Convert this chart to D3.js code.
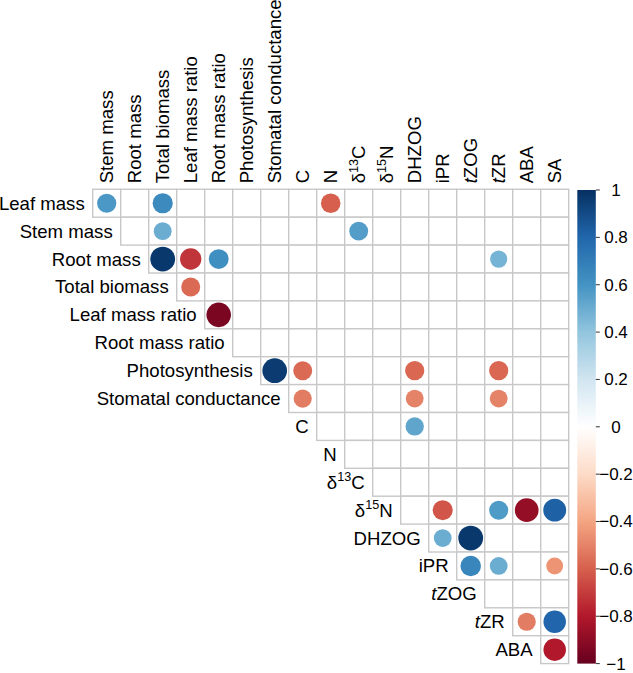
<!DOCTYPE html>
<html>
<head>
<meta charset="utf-8">
<script src="https://cdn.jsdelivr.net/npm/d3@7"></script>
<style>
  html, body { margin: 0; padding: 0; background: #fff; }
  svg { display: block; }
  text { font-family: "Liberation Sans", Arial, sans-serif; fill: #000; }
</style>
</head>
<body>
<svg id="chart" width="633" height="673"></svg>
<script>
// ---- Data ----
// Markup in labels: ^{..} = superscript, *..* = italic
const rowLabels = ["Leaf mass", "Stem mass", "Root mass", "Total biomass", "Leaf mass ratio",
  "Root mass ratio", "Photosynthesis", "Stomatal conductance", "C", "N", "δ^{13}C", "δ^{15}N",
  "DHZOG", "iPR", "*t*ZOG", "*t*ZR", "ABA"];
const colLabels = ["Stem mass", "Root mass", "Total biomass", "Leaf mass ratio", "Root mass ratio",
  "Photosynthesis", "Stomatal conductance", "C", "N", "δ^{13}C", "δ^{15}N", "DHZOG", "iPR",
  "*t*ZOG", "*t*ZR", "ABA", "SA"];
// Correlation values, one array per row (null = not shown)
const _ = null;
const corrValues = [
  [0.58, _, 0.64, _, _, _, _, _, -0.60, _, _, _, _, _, _, _, _],
  [_, _, 0.50, _, _, _, _, _, _, 0.56, _, _, _, _, _, _, _],
  [_, _, 0.97, -0.72, 0.62, _, _, _, _, _, _, _, _, _, 0.47, _, _],
  [_, _, _, -0.57, _, _, _, _, _, _, _, _, _, _, _, _, _],
  [_, _, _, _, -0.95, _, _, _, _, _, _, _, _, _, _, _, _],
  [_, _, _, _, _, _, _, _, _, _, _, _, _, _, _, _, _],
  [_, _, _, _, _, _, 0.96, -0.57, _, _, _, -0.58, _, _, -0.58, _, _],
  [_, _, _, _, _, _, _, -0.52, _, _, _, -0.50, _, _, -0.50, _, _],
  [_, _, _, _, _, _, _, _, _, _, _, 0.53, _, _, _, _, _],
  [_, _, _, _, _, _, _, _, _, _, _, _, _, _, _, _, _],
  [_, _, _, _, _, _, _, _, _, _, _, _, _, _, _, _, _],
  [_, _, _, _, _, _, _, _, _, _, _, _, -0.63, _, 0.57, -0.88, 0.82],
  [_, _, _, _, _, _, _, _, _, _, _, _, 0.50, 0.97, _, _, _],
  [_, _, _, _, _, _, _, _, _, _, _, _, _, 0.66, 0.50, _, -0.45],
  [_, _, _, _, _, _, _, _, _, _, _, _, _, _, _, _, _],
  [_, _, _, _, _, _, _, _, _, _, _, _, _, _, _, -0.52, 0.80],
  [_, _, _, _, _, _, _, _, _, _, _, _, _, _, _, _, -0.80]
];
const legendTicks = [1, 0.8, 0.6, 0.4, 0.2, 0, -0.2, -0.4, -0.6, -0.8, -1];
const paletteColors = ["#67001F", "#B2182B", "#D6604D", "#F4A582", "#FDDBC7", "#FFFFFF",
  "#D1E5F0", "#92C5DE", "#4393C3", "#2166AC", "#053061"];

// ---- Layout ----
const svg = d3.select("#chart");
const gx0 = 92.7, gy0 = 189.3, cw = 28, ch = 27.9;
const n = colLabels.length;
const x = d3.scaleBand().domain(d3.range(n)).range([gx0, gx0 + n * cw]).padding(0);
const y = d3.scaleBand().domain(d3.range(rowLabels.length)).range([gy0, gy0 + rowLabels.length * ch]).padding(0);

const colorStops = d3.range(paletteColors.length).map(i => -1 + 2 * i / (paletteColors.length - 1));
const color = d3.scaleLinear().domain(colorStops).range(paletteColors).interpolate(d3.interpolateRgb);
const rScale = d3.scaleSqrt().domain([0, 1]).range([0, 0.9 * cw / 2]);

const fontSize = 18.6;

function richText(sel, label) {
  const re = /(\^\{[^}]*\}|\*[^*]*\*|[^^*]+)/g;
  const parts = label.match(re) || [];
  let prevSup = false;
  parts.forEach(p => {
    let t;
    if (p.startsWith("^{")) {
      t = sel.append("tspan").text(p.slice(2, -1)).attr("font-size", fontSize * 0.68).attr("dy", -fontSize * 0.4);
      prevSup = true;
    } else {
      if (p.startsWith("*")) {
        t = sel.append("tspan").text(p.slice(1, -1)).attr("font-style", "italic");
      } else {
        t = sel.append("tspan").text(p);
      }
      if (prevSup) { t.attr("dy", fontSize * 0.4); prevSup = false; }
    }
  });
}

// cells
const cells = [];
rowLabels.forEach((rl, i) => {
  for (let j = i; j < n; j++) cells.push({ i, j, v: corrValues[i][j] });
});

svg.append("g").selectAll("rect").data(cells).join("rect")
  .attr("x", d => x(d.j)).attr("y", d => y(d.i))
  .attr("width", x.bandwidth()).attr("height", y.bandwidth())
  .attr("fill", "#fff").attr("stroke", "#c8c8c8").attr("stroke-width", 1.4);

svg.append("g").selectAll("circle").data(cells.filter(d => d.v !== null)).join("circle")
  .attr("cx", d => x(d.j) + x.bandwidth() / 2)
  .attr("cy", d => y(d.i) + y.bandwidth() / 2)
  .attr("r", d => rScale(Math.abs(d.v)))
  .attr("fill", d => color(d.v));

// row labels
svg.append("g").selectAll("text").data(rowLabels).join("text")
  .attr("x", (d, i) => x(i) - 8)
  .attr("y", (d, i) => y(i) + y.bandwidth() / 2)
  .attr("dy", "0.35em")
  .attr("text-anchor", "end")
  .attr("font-size", fontSize)
  .each(function (d) { richText(d3.select(this), d); });

// column labels
svg.append("g").selectAll("text").data(colLabels).join("text")
  .attr("transform", (d, j) => `translate(${x(j) + x.bandwidth() / 2},${gy0 - 6}) rotate(-90)`)
  .attr("dy", "0.35em")
  .attr("text-anchor", "start")
  .attr("font-size", fontSize)
  .each(function (d) { richText(d3.select(this), d); });

// color legend
const lx = 577.3, lw = 18.5, ly0 = gy0 + 0.7, ly1 = gy0 + rowLabels.length * ch;
const ly = d3.scaleLinear().domain([1, -1]).range([ly0, ly1]);
const defs = svg.append("defs");
const grad = defs.append("linearGradient").attr("id", "cbar")
  .attr("x1", 0).attr("x2", 0).attr("y1", 0).attr("y2", 1);
d3.range(0, 101).forEach(k => {
  const v = 1 - 2 * k / 100;
  grad.append("stop").attr("offset", k + "%").attr("stop-color", color(v));
});
svg.append("rect").attr("x", lx).attr("y", ly0).attr("width", lw).attr("height", ly1 - ly0)
  .attr("fill", "url(#cbar)");

const lg = svg.append("g");
lg.selectAll("line").data(legendTicks).join("line")
  .attr("x1", lx + lw).attr("x2", lx + lw + 4)
  .attr("y1", d => ly(d)).attr("y2", d => ly(d))
  .attr("stroke", "#333").attr("stroke-width", 1);
lg.selectAll("text").data(legendTicks).join("text")
  .attr("x", 616).attr("y", d => ly(d)).attr("dy", "0.35em")
  .attr("text-anchor", "middle").attr("font-size", 17)
  .text(d => d3.format("")(d));
</script>
</body>
</html>
